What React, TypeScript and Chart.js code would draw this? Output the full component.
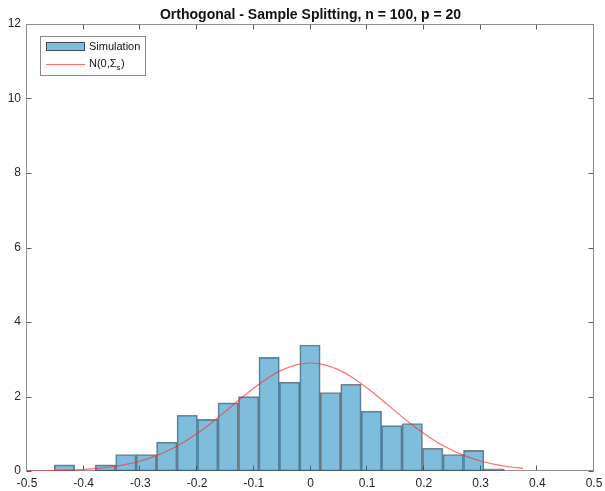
import { useEffect, useRef } from "react";
import { Chart, registerables } from "chart.js";

Chart.register(...registerables);

const TITLE = "Orthogonal - Sample Splitting, n = 100, p = 20";

// Histogram bins (centres) and their pdf-normalised heights
const binCenters = [
  -0.4339, -0.3978, -0.3617, -0.3256, -0.2895, -0.2535, -0.2174, -0.1813,
  -0.1452, -0.1091, -0.073, -0.0369, -0.0009, 0.0352, 0.0713, 0.1074,
  0.1434, 0.1795, 0.2156, 0.2517, 0.2878, 0.3238,
];
const density: (number | null)[] = [
  0.166, null, 0.166, 0.443, 0.443, 0.776, 1.496, 1.386, 1.829, 1.996,
  3.049, 2.384, 3.382, 2.107, 2.328, 1.608, 1.22, 1.275, 0.61, 0.443,
  0.554, 0.055,
];

// Reference normal density curve N(0, Σs)
const curveX = [
  -0.5, -0.475, -0.45, -0.425, -0.4, -0.375, -0.35, -0.325, -0.3, -0.275,
  -0.25, -0.225, -0.2, -0.175, -0.15, -0.125, -0.1, -0.075, -0.05, -0.025,
  0, 0.025, 0.05, 0.075, 0.1, 0.125, 0.15, 0.175, 0.2, 0.225, 0.25, 0.275,
  0.3, 0.325, 0.35, 0.375,
];
const curveY = [
  0.004, 0.007, 0.014, 0.025, 0.042, 0.071, 0.114, 0.178, 0.269, 0.393,
  0.556, 0.761, 1.008, 1.291, 1.6, 1.919, 2.226, 2.499, 2.714, 2.851,
  2.899, 2.851, 2.714, 2.499, 2.226, 1.919, 1.6, 1.291, 1.008, 0.761,
  0.556, 0.393, 0.269, 0.178, 0.114, 0.071,
];

const xTickValues = [-0.5, -0.4, -0.3, -0.2, -0.1, 0, 0.1, 0.2, 0.3, 0.4, 0.5];
const yTickValues = [0, 2, 4, 6, 8, 10, 12];

const FONT = "'Liberation Sans', Arial, Helvetica, sans-serif";
const AXIS_COLOR = "#8f8f8f";
const TICK_MARK_COLOR = "#5a5a5a";
const TEXT_COLOR = "#262626";
const BAR_FILL = "rgba(0,123,187,0.5)";
const BAR_EDGE = "rgba(40,55,66,0.62)";
const CURVE_COLOR = "rgba(255,50,50,0.7)";

const axesFrame = {
  id: "axesFrame",
  beforeDatasetsDraw(chart: any) {
    const { ctx, chartArea: a, scales } = chart;
    const x0 = a.left - 0.5;
    const x1 = a.right - 0.5;
    const y0 = a.top + 0.5;
    const y1 = a.bottom - 0.5;
    const len = 5;
    ctx.save();
    ctx.lineWidth = 1;
    ctx.strokeStyle = TICK_MARK_COLOR;
    ctx.beginPath();
    for (const v of xTickValues) {
      const px = Math.round(scales.x.getPixelForValue(v)) - 0.5;
      ctx.moveTo(px, y1);
      ctx.lineTo(px, y1 - len);
      ctx.moveTo(px, y0);
      ctx.lineTo(px, y0 + len);
    }
    for (const v of yTickValues) {
      const py = Math.round(scales.y.getPixelForValue(v)) + 0.5;
      ctx.moveTo(x0, py);
      ctx.lineTo(x0 + len, py);
      ctx.moveTo(x1, py);
      ctx.lineTo(x1 - len, py);
    }
    ctx.stroke();
    ctx.strokeStyle = AXIS_COLOR;
    ctx.strokeRect(x0, y0, x1 - x0, y1 - y0);
    ctx.restore();
  },
};

const titleAndLegend = {
  id: "titleAndLegend",
  afterDraw(chart: any) {
    const { ctx, chartArea: a } = chart;
    ctx.save();
    // title
    ctx.fillStyle = "#111";
    ctx.font = `bold 14px ${FONT}`;
    ctx.textAlign = "center";
    ctx.textBaseline = "alphabetic";
    ctx.fillText(TITLE, (a.left + a.right) / 2, 19);

    // legend box
    ctx.fillStyle = "#fff";
    ctx.fillRect(40.5, 36.5, 105, 39);
    ctx.strokeStyle = "#8c8c8c";
    ctx.lineWidth = 1;
    ctx.strokeRect(40.5, 36.5, 105, 39);

    // histogram swatch
    ctx.fillStyle = BAR_FILL;
    ctx.fillRect(46.5, 42.5, 38, 8);
    ctx.strokeStyle = "#3e4d57";
    ctx.strokeRect(46.5, 42.5, 38, 8);

    // curve swatch
    ctx.strokeStyle = CURVE_COLOR;
    ctx.lineWidth = 1.2;
    ctx.beginPath();
    ctx.moveTo(46, 64.5);
    ctx.lineTo(85, 64.5);
    ctx.stroke();

    ctx.fillStyle = "#111";
    ctx.textAlign = "left";
    ctx.textBaseline = "middle";
    ctx.font = `11px ${FONT}`;
    ctx.fillText("Simulation", 89, 47);
    const base = "N(0,Σ";
    ctx.fillText(base, 89, 63.5);
    let x = 89 + ctx.measureText(base).width;
    ctx.font = `8px ${FONT}`;
    ctx.fillText("s", x, 67.5);
    x += ctx.measureText("s").width + 0.5;
    ctx.font = `11px ${FONT}`;
    ctx.fillText(")", x, 63.5);
    ctx.restore();
  },
};

export default function App() {
  const canvasRef = useRef<HTMLCanvasElement>(null);

  useEffect(() => {
    const canvas = canvasRef.current;
    if (!canvas) return;
    const chart = new Chart(canvas, {
      type: "bar",
      data: {
        datasets: [
          {
            type: "line",
            label: "N(0,Σs)",
            data: curveX.map((x, i) => ({ x, y: curveY[i] })),
            borderColor: CURVE_COLOR,
            borderWidth: 1.2,
            pointRadius: 0,
            cubicInterpolationMode: "monotone",
            fill: false,
            order: 0,
          } as any,
          {
            type: "bar",
            label: "Simulation",
            data: binCenters.map((x, i) => ({ x, y: density[i] })),
            backgroundColor: BAR_FILL,
            borderColor: BAR_EDGE,
            borderWidth: 1,
            borderSkipped: false,
            barPercentage: 1,
            categoryPercentage: 1,
            grouped: false,
            order: 1,
          } as any,
        ],
      },
      options: {
        animation: false,
        responsive: false,
        devicePixelRatio: 1,
        layout: { padding: { left: 0, top: 24, right: 11, bottom: 0 } },
        plugins: {
          legend: { display: false },
          title: { display: false },
          tooltip: { enabled: false },
        },
        scales: {
          x: {
            type: "linear",
            min: -0.5,
            max: 0.5,
            offset: false,
            grid: { display: false, drawTicks: false },
            border: { display: false },
            afterBuildTicks: (scale: any) => {
              scale.ticks = xTickValues.map((value) => ({ value }));
            },
            afterFit: (scale: any) => {
              scale.height = 20;
              scale.paddingLeft = 0;
              scale.paddingRight = 0;
            },
            ticks: {
              autoSkip: false,
              maxRotation: 0,
              padding: 5,
              color: TEXT_COLOR,
              font: { family: FONT, size: 12 },
              callback: (v: any) => String(Number(Number(v).toFixed(1))),
            },
          },
          y: {
            type: "linear",
            min: 0,
            max: 12,
            grid: { display: false, drawTicks: false },
            border: { display: false },
            afterBuildTicks: (scale: any) => {
              scale.ticks = yTickValues.map((value) => ({ value }));
            },
            afterFit: (scale: any) => {
              scale.width = 27;
              scale.paddingTop = 0;
              scale.paddingBottom = 0;
            },
            ticks: {
              padding: 6,
              color: TEXT_COLOR,
              font: { family: FONT, size: 12 },
              callback: (v: any) => String(v),
            },
          },
        },
      },
      plugins: [axesFrame, titleAndLegend],
    });
    return () => chart.destroy();
  }, []);

  return (
    <div
      style={{
        position: "fixed",
        left: 0,
        top: 0,
        width: 605,
        height: 491,
        background: "#fff",
      }}
    >
      <canvas
        ref={canvasRef}
        width={605}
        height={491}
        style={{ display: "block", width: 605, height: 491 }}
      />
    </div>
  );
}
